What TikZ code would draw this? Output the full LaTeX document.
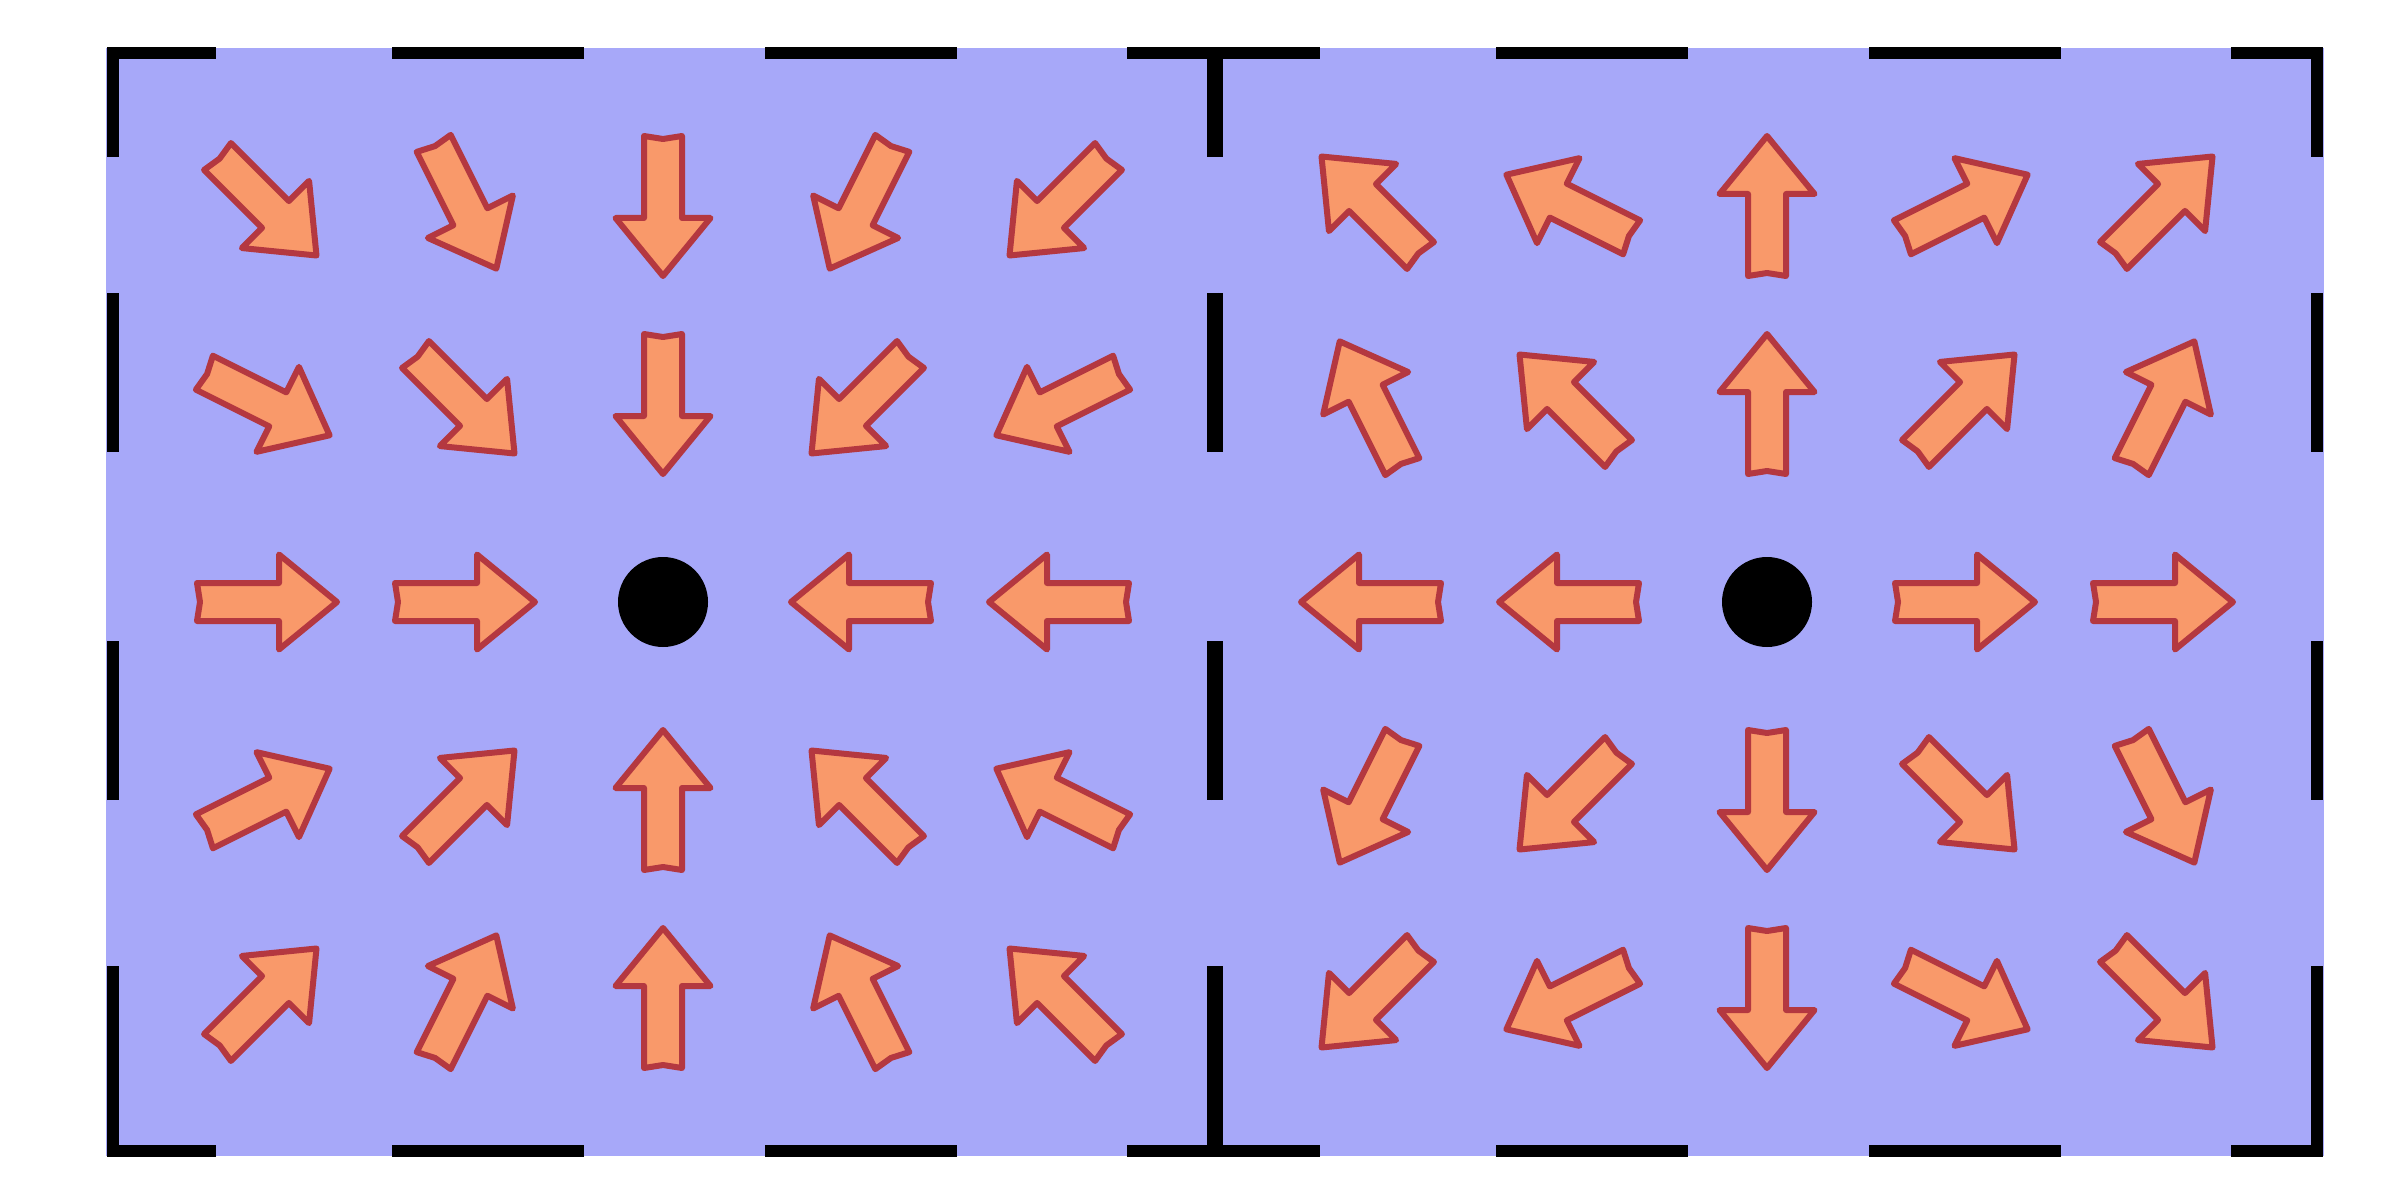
\documentclass[tikz,border=0pt]{standalone}
\usepackage{tikz}

\definecolor{cellblue}{RGB}{167,168,249}
\definecolor{arrowfill}{RGB}{249,153,106}
\definecolor{arrowedge}{RGB}{180,56,64}

\tikzset{
  cellborder/.style={draw=black, line width=1.2mm, line join=miter,
    dash pattern=on 1.92cm off 1.81cm on 1.92cm off 1.70cm on 1.90cm off 1.36cm
      on 1.59cm off 1.89cm on 1.59cm off 1.66cm on 2.71cm off 1.70cm
      on 1.92cm off 1.81cm on 1.92cm off 1.76cm on 2.88cm off 1.66cm
      on 1.59cm off 1.89cm on 1.59cm off 1.36cm on 2.07cm off 1.76cm},
  fluxarrow/.style={draw=arrowedge, fill=arrowfill, line width=0.6mm, line join=round},
  flux/.pic={\draw[fluxarrow] (-0.70,0.19) -- (0.12,0.19) -- (0.12,0.475) -- (0.70,0)
    -- (0.12,-0.475) -- (0.12,-0.19) -- (-0.70,-0.19) -- (-0.67,0) -- cycle;},
  pole/.style={circle, fill=black, minimum size=0.9cm, inner sep=0pt}
}

\begin{document}
\begin{tikzpicture}

\useasboundingbox (0,0) rectangle (24,12);
\fill[cellblue] (1.06,0.44) rectangle (23.24,11.52);

% two cells, left one the sink, right one the source
\foreach \x in {1.13,12.17}
  \draw[cellborder] (\x+2.79,11.47) -- (\x+11,11.47) -- (\x+11,0.49) -- (\x,0.49) -- (\x,11.47) -- cycle;

\node[pole] (sink) at (6.63,5.98) {};
\node[pole] (source) at (17.67,5.98) {};

% arrows pointing into the sink
\foreach \i in {-2,...,2}
  \foreach \j in {-2,...,2}{
    \pgfmathtruncatemacro{\rr}{\i*\i+\j*\j}
    \ifnum\rr>0
      \pgfmathsetmacro{\ang}{atan2(-\j,-\i)}
      \pic[rotate=\ang] at ({6.63+1.98*\i},{5.98+1.98*\j}) {flux};
    \fi
  }

% arrows pointing out of the source
\foreach \i in {-2,...,2}
  \foreach \j in {-2,...,2}{
    \pgfmathtruncatemacro{\rr}{\i*\i+\j*\j}
    \pgfmathtruncatemacro{\pp}{\i*\j}
    \ifnum\rr>0
      \ifnum\pp=0
        \pgfmathsetmacro{\ang}{atan2(\j,\i)}
      \else
        \pgfmathsetmacro{\ang}{atan2(\j*abs(\i)/abs(\j),\i*abs(\j)/abs(\i))}
      \fi
      \pic[rotate=\ang] at ({17.67+1.98*\i},{5.98+1.98*\j}) {flux};
    \fi
  }

\end{tikzpicture}
\end{document}
